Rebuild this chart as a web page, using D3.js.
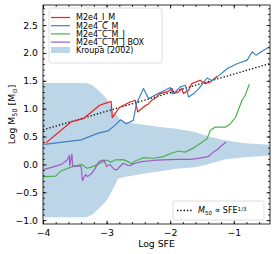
<!DOCTYPE html>
<html>
<head>
<meta charset="utf-8">
<script src="https://cdn.jsdelivr.net/npm/d3@7"></script>
<style>
  body { margin: 0; background: #fff; }
  text { font-family: "DejaVu Sans", sans-serif; fill: #000; }
</style>
</head>
<body>
<div id="chart"></div>
<script>
// Log M50 vs Log SFE for the M2e4 runs, with the Kroupa (2002) range shaded.

const seriesNames = ['M2e4_I_M', 'M2e4_C_M', 'M2e4_C_M_J', 'M2e4_C_M_J BOX'];
const seriesColors = ['#ee1c1c', '#3d80c4', '#4caf4c', '#9c5cc0'];

const runIM = [[-3.95,0.39],[-3.56,0.76],[-3.37,0.82],[-3.27,0.91],[-3.11,1.06],[-2.93,1.13],[-2.91,0.84],[-2.86,0.92],
  [-2.80,1.02],[-2.63,1.12],[-2.55,1.15],[-2.51,0.94],[-2.42,1.03],[-2.34,1.09],[-2.29,1.15],[-2.21,1.21],[-2.16,1.27],
  [-2.05,1.30],[-1.97,1.36],[-1.95,1.27],[-1.87,1.30],[-1.82,1.36],[-1.79,1.27],[-1.71,1.33],[-1.66,1.45],[-1.53,1.51],
  [-1.45,1.45],[-1.37,1.48],[-1.26,1.58]];

const runCM = [[-3.98,0.36],[-3.40,0.44],[-3.13,0.56],[-2.98,0.60],[-2.87,0.70],[-2.78,0.80],[-2.69,0.73],[-2.58,0.79],
  [-2.53,1.09],[-2.42,1.36],[-2.34,1.18],[-2.29,1.21],[-2.19,1.27],[-2.08,1.33],[-2.00,1.38],[-1.97,1.27],[-1.92,1.30],
  [-1.84,1.39],[-1.76,1.42],[-1.71,1.21],[-1.63,1.27],[-1.55,1.36],[-1.42,1.55],[-1.34,1.50],[-1.26,1.57],[-1.10,1.72],
  [-0.94,1.81],[-0.79,1.87],[-0.71,2.02],[-0.65,1.96],[-0.58,2.01],[-0.44,2.11]];

const runCMJ = [[-3.98,-0.22],[-3.80,-0.21],[-3.72,-0.12],[-3.56,-0.05],[-3.39,0.00],[-3.31,-0.07],[-3.24,-0.05],
  [-3.14,0.00],[-3.00,0.08],[-2.93,0.04],[-2.87,0.08],[-2.74,0.085],[-2.66,0.05],[-2.61,0.01],[-2.55,0.06],[-2.42,0.12],
  [-2.27,0.11],[-2.11,0.14],[-1.98,0.20],[-1.87,0.24],[-1.77,0.22],[-1.69,0.26],[-1.61,0.31],[-1.42,0.46],[-1.37,0.61],
  [-1.29,0.67],[-1.13,0.67],[-1.05,0.73],[-0.97,0.85],[-0.90,1.06],[-0.87,1.15],[-0.82,1.24],[-0.755,1.44]];

const runCMJBox = [[-3.98,-0.09],[-3.85,-0.05],[-3.71,0.00],[-3.62,0.08],[-3.585,0.16],[-3.58,-0.02],[-3.545,0.185],
  [-3.535,-0.03],[-3.40,-0.03],[-3.38,-0.29],[-3.33,-0.18],[-3.30,-0.22],[-3.24,-0.17],[-3.19,-0.09],[-3.12,0.05],
  [-3.04,0.08],[-3.00,-0.04],[-2.95,0.00],[-2.88,-0.09],[-2.84,-0.10],[-2.74,0.02],[-2.66,-0.02],[-2.63,-0.02],
  [-2.55,0.02],[-2.45,0.05],[-2.27,0.07],[-2.11,0.08],[-1.90,0.09],[-1.69,0.09],[-1.61,0.10],[-1.40,0.14],[-1.32,0.22],
  [-1.24,0.28],[-1.19,0.34],[-1.12,0.40]];

const kroupaUpper = [[-4,1.46],[-3.32,1.46],[-3.22,1.42],[-3.13,1.33],[-3.00,1.18],[-2.90,0.97],[-2.79,0.80],[-2.74,0.76],
  [-2.53,0.73],[-2.16,0.67],[-1.90,0.64],[-1.61,0.58],[-1.45,0.52],[-1.13,0.43],[-0.82,0.38],[-0.43,0.35]];
const kroupaLower = [[-4,-0.95],[-3.32,-0.95],[-3.22,-0.90],[-3.13,-0.80],[-3.00,-0.65],[-2.90,-0.44],[-2.82,-0.26],
  [-2.74,-0.23],[-2.42,-0.17],[-1.90,-0.08],[-1.61,-0.05],[-1.45,-0.01],[-1.13,0.09],[-0.82,0.13],[-0.43,0.16]];

const refLine = [[-4, 0.62], [-0.43, 1.81]];

const xTicks = [-4, -3, -2, -1];
const yTicks = [-1.0, -0.5, 0.0, 0.5, 1.0, 1.5, 2.0, 2.5];

const W = 274, H = 254;
const margin = { top: 5, right: 4, bottom: 30, left: 43 };
const innerW = W - margin.left - margin.right;
const innerH = H - margin.top - margin.bottom;

const svg = d3.select('#chart').append('svg').attr('width', W).attr('height', H);
const g = svg.append('g').attr('transform', `translate(${margin.left},${margin.top})`);

const x = d3.scaleLinear().domain([-4, -0.43]).range([0, innerW]);
const y = d3.scaleLinear().domain([-1.07, 2.86]).range([innerH, 0]);

const clip = svg.append('clipPath').attr('id', 'clip');
clip.append('rect').attr('width', innerW).attr('height', innerH);
const plot = g.append('g').attr('clip-path', 'url(#clip)');

// Kroupa band
const band = kroupaUpper.concat(kroupaLower.slice().reverse());
plot.append('path')
  .attr('d', d3.line().x((d) => x(d[0])).y((d) => y(d[1]))(band) + 'Z')
  .attr('fill', '#bcd6e8');

// reference power law
plot.append('path')
  .attr('d', d3.line().x((d) => x(d[0])).y((d) => y(d[1]))(refLine))
  .attr('fill', 'none').attr('stroke', '#000').attr('stroke-width', 1.3)
  .attr('stroke-dasharray', '1.3,2');

const runs = [runIM, runCM, runCMJ, runCMJBox];
const line = d3.line().x((d) => x(d[0])).y((d) => y(d[1]));
runs.forEach((r, i) => {
  plot.append('path').attr('d', line(r))
    .attr('fill', 'none').attr('stroke', seriesColors[i]).attr('stroke-width', 1.2)
    .attr('stroke-linejoin', 'round');
});

// axes, ticks pointing inward on all four sides
const xMinor = d3.range(-4, -0.42, 0.2).map((v) => +v.toFixed(2));
const yMinor = d3.range(-1.0, 2.86, 0.1).map((v) => +v.toFixed(2));

function drawAxis(axis, minor, tr) {
  const ax = g.append('g').attr('transform', tr);
  ax.call(axis.tickValues(minor).tickSize(-2).tickFormat(''));
  ax.select('.domain').remove();
  return ax;
}
drawAxis(d3.axisBottom(x), xMinor, `translate(0,${innerH})`);
drawAxis(d3.axisTop(x), xMinor, 'translate(0,0)');
drawAxis(d3.axisLeft(y), yMinor, 'translate(0,0)');
drawAxis(d3.axisRight(y), yMinor, `translate(${innerW},0)`);

const fmt = (v) => v.toFixed(1).replace('-', '\u2212');
const xb = g.append('g').attr('transform', `translate(0,${innerH})`)
  .call(d3.axisBottom(x).tickValues(xTicks).tickSize(-3.5).tickPadding(5).tickFormat((v) => String(v).replace('-', '\u2212')));
const yl = g.append('g')
  .call(d3.axisLeft(y).tickValues(yTicks).tickSize(-3.5).tickPadding(5).tickFormat(fmt));
g.append('g').call(d3.axisTop(x).tickValues(xTicks).tickSize(-3.5).tickFormat(''));
g.append('g').attr('transform', `translate(${innerW},0)`)
  .call(d3.axisRight(y).tickValues(yTicks).tickSize(-3.5).tickFormat(''));
g.selectAll('.domain').remove();
g.selectAll('.tick line').attr('stroke', '#000').attr('stroke-width', 0.8);
[xb, yl].forEach((a) => a.selectAll('text').style('font-size', '9.3px').style('font-family', 'DejaVu Sans'));

g.append('rect').attr('width', innerW).attr('height', innerH)
  .attr('fill', 'none').attr('stroke', '#000').attr('stroke-width', 0.8);

// axis labels
svg.append('text').attr('x', margin.left + innerW / 2).attr('y', 247)
  .attr('text-anchor', 'middle').style('font-size', '9.3px').text('Log SFE');

const ylab = svg.append('text')
  .attr('transform', `translate(15,${margin.top + innerH / 2}) rotate(-90)`)
  .attr('text-anchor', 'middle').style('font-size', '9.3px');
ylab.append('tspan').text('Log M');
ylab.append('tspan').attr('baseline-shift', '-25%').style('font-size', '6.5px').text('50');
ylab.append('tspan').text(' [M');
ylab.append('tspan').attr('baseline-shift', '-25%').style('font-size', '6.5px').text('\u2299');
ylab.append('tspan').text(']');

// main legend
const lg = svg.append('g').attr('transform', 'translate(49,8)');
lg.append('rect').attr('width', 113).attr('height', 55).attr('rx', 2)
  .attr('fill', '#fff').attr('fill-opacity', 0.8).attr('stroke', '#d6d6d6').attr('stroke-width', 0.8);
seriesNames.forEach((name, i) => {
  const yy = 9.5 + i * 8.2;
  lg.append('line').attr('x1', 2).attr('x2', 21).attr('y1', yy).attr('y2', yy)
    .attr('stroke', seriesColors[i]).attr('stroke-width', 1.2);
  lg.append('text').attr('x', 27).attr('y', yy).attr('dy', '0.35em')
    .style('font-size', '8px').text(name);
});
lg.append('rect').attr('x', 2).attr('y', 39).attr('width', 19).attr('height', 6).attr('fill', '#bcd6e8');
lg.append('text').attr('x', 27).attr('y', 42.3).attr('dy', '0.35em').style('font-size', '8px').text('Kroupa (2002)');

// power-law legend
const lg2 = svg.append('g').attr('transform', 'translate(173,201)');
lg2.append('rect').attr('width', 91).attr('height', 19).attr('rx', 2)
  .attr('fill', '#fff').attr('fill-opacity', 0.8).attr('stroke', '#d6d6d6').attr('stroke-width', 0.8);
lg2.append('line').attr('x1', 4).attr('x2', 20).attr('y1', 9.5).attr('y2', 9.5)
  .attr('stroke', '#000').attr('stroke-width', 1.3).attr('stroke-dasharray', '1.3,2');
const t2 = lg2.append('text').attr('x', 25).attr('y', 9.5).attr('dy', '0.35em').style('font-size', '8px');
t2.append('tspan').style('font-style', 'italic').text('M');
t2.append('tspan').attr('baseline-shift', '-25%').style('font-size', '5.6px').text('50');
t2.append('tspan').text(' \u221d SFE');
t2.append('tspan').attr('baseline-shift', '40%').style('font-size', '5.6px').text('1/3');
</script>
</body>
</html>
